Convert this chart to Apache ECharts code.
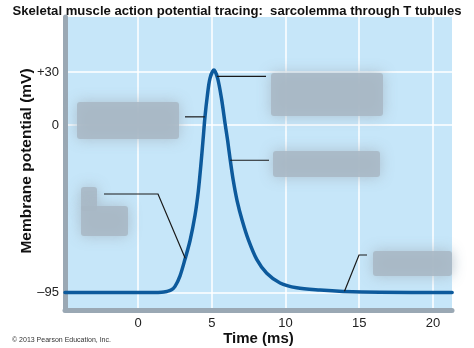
<!DOCTYPE html>
<html>
<head>
<meta charset="utf-8">
<script src="https://cdn.jsdelivr.net/npm/echarts@6/dist/echarts.min.js"></script>
<style>
html,body{margin:0;padding:0;background:#fff;}
#chart{width:474px;height:348px;}
</style>
</head>
<body>
<div id="chart"></div>
<script>
// ---- data (time in ms, membrane potential in mV) ----
var times = [-4.95, 1.0, 1.6, 1.95, 2.24, 2.51, 2.85, 3.19, 3.53, 3.86, 4.09, 4.27, 4.41, 4.54, 4.70, 4.88, 5.15,
             5.40, 5.67, 5.90, 6.08, 6.24, 6.46, 6.72, 7.06, 7.48, 8.05, 8.73, 9.63, 10.76, 12.34, 13.9, 16.4, 21.3];
var potentials = [-95, -95, -94.9, -94.4, -93.6, -91.5, -85.5, -76.0, -65.5, -51.5, -37.5, -22.0, -8.5, 4.5, 16.5, 26.4, 31.1,
                  26.4, 14.5, 1.0, -9.0, -19.0, -31.5, -43.0, -54.0, -65.0, -76.2, -84.1, -89.6, -92.3, -93.6, -94.4, -94.9, -95];
var xTicks = [0, 5, 10, 15, 20];
var yTicks = [-95, 0, 30];
var titleText = 'Skeletal muscle action potential tracing:  sarcolemma through T tubules';
var yName = 'Membrane potential (mV)';
var xName = 'Time (ms)';
var credit = '\u00a9 2013 Pearson Education, Inc.';
// leader anchor points on the curve [time, mV]
var anchors = [[4.53, 4.6], [5.35, 27.5], [6.25, -20], [3.2, -75.6], [14.0, -94.3]];

var series = times.map(function (t, i) { return [t, potentials[i]]; });

var chart = echarts.init(document.getElementById('chart'), null, {renderer: 'canvas'});
var FONT = 'Liberation Sans, Arial, sans-serif';

chart.setOption({
  animation: false,
  backgroundColor: '#ffffff',
  title: {
    text: titleText, left: 'center', top: 0,
    textStyle: {fontFamily: FONT, fontSize: 13.1, fontWeight: 'bold', color: '#111'}
  },
  grid: {left: 65, right: 22, top: 17, bottom: 38, outerBoundsMode: 'none', containLabel: false,
         show: true, backgroundColor: '#c6e6f9', borderWidth: 0},
  xAxis: {
    type: 'value', min: -4.95, max: 21.29,
    name: xName, nameLocation: 'middle', nameGap: 21, nameMoveOverlap: false,
    nameTextStyle: {fontFamily: FONT, fontSize: 15, fontWeight: 'bold', color: '#111'},
    axisLine: {show: true, onZero: false, lineStyle: {color: '#9aa8b4', width: 5}},
    axisTick: {show: false, customValues: xTicks},
    axisLabel: {customValues: xTicks, margin: 7, fontFamily: FONT, fontSize: 13, color: '#222'},
    splitLine: {show: true, lineStyle: {color: '#ffffff', width: 1.5}}
  },
  yAxis: {
    type: 'value', min: -104.9, max: 61.2,
    name: yName, nameLocation: 'middle', nameGap: 30, nameRotate: 90, nameMoveOverlap: false,
    nameTextStyle: {fontFamily: FONT, fontSize: 15.5, fontWeight: 'bold', color: '#111', padding: [0, 0, 0, 5]},
    axisLine: {show: true, onZero: false, lineStyle: {color: '#9aa8b4', width: 5}},
    axisTick: {show: false, customValues: yTicks},
    axisLabel: {
      customValues: yTicks, margin: 6, fontFamily: FONT, fontSize: 13, color: '#222',
      formatter: function (v) { return v > 0 ? '+' + v : (v < 0 ? '\u2013' + Math.abs(v) : '0'); }
    },
    splitLine: {show: true, lineStyle: {color: '#ffffff', width: 1.5}}
  },
  series: [{
    type: 'line', data: series, smooth: 0.3, showSymbol: false,
    lineStyle: {color: '#0d5a9c', width: 3.5, cap: 'round', join: 'round'}, z: 5
  }]
});

// annotation boxes (blurred label placeholders) and leader lines
var px = anchors.map(function (a) { return chart.convertToPixel({gridIndex: 0}, a); });
function box(x, y, w, h) {
  return {type: 'rect', shape: {x: x, y: y, width: w, height: h, r: 3}, z: 10,
    style: {fill: 'rgba(168,183,196,0.85)', shadowBlur: 14, shadowColor: 'rgba(168,184,198,1)'}};
}
function line(points) {
  return {type: 'polyline', shape: {points: points}, z: 11, style: {stroke: '#1a1a1a', lineWidth: 1.2, fill: null}};
}
chart.setOption({
  graphic: [
    box(77, 102, 102, 37),
    box(271, 73, 112, 43),
    box(273, 151, 107, 26),
    box(81, 187, 16, 24),
    box(81, 206, 47, 30),
    box(373, 251, 79, 25),
    line([[185, px[0][1]], [px[0][0], px[0][1]]]),
    line([[px[1][0], px[1][1]], [266, px[1][1]]]),
    line([[px[2][0], px[2][1]], [269, px[2][1]]]),
    line([[104, 194], [158, 194], [px[3][0], px[3][1]]]),
    line([[px[4][0], px[4][1]], [359, 255], [367, 255]]),
    {type: 'text', left: 12, top: 337, z: 12,
     style: {text: credit, font: '7px ' + FONT, fill: '#333'}}
  ]
});
</script>
</body>
</html>
